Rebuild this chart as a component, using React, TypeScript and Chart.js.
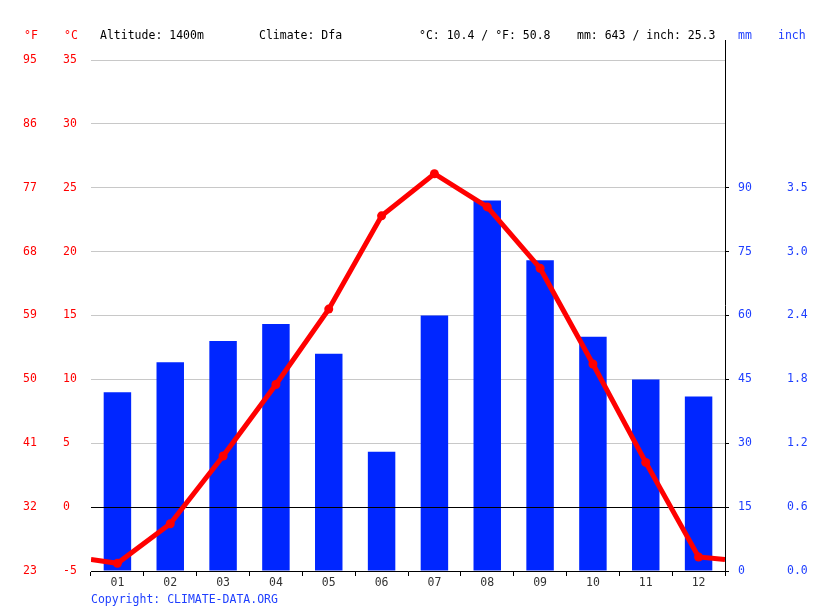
import React, { useEffect, useRef } from 'react';
import { Chart, registerables } from 'chart.js';

Chart.register(...registerables);

const months = ['01', '02', '03', '04', '05', '06', '07', '08', '09', '10', '11', '12'];
const precipitationMm = [42, 49, 54, 58, 51, 28, 60, 87, 73, 55, 45, 41];
const temperatureC = [-4.4, -1.3, 4.0, 9.6, 15.5, 22.8, 26.1, 23.5, 18.7, 11.2, 3.5, -3.9];
const tempEdgeStartC = -4.1;
const tempEdgeEndC = -4.1;
const celsiusMin = -5;
const celsiusMax = 35;
const celsiusStep = 5;
const mmMin = 0;
const mmMax = 120;
const mmStep = 15;
const mmTickLimit = 90;

const headerLeft = 'Altitude: 1400m';
const headerClimate = 'Climate: Dfa';
const headerTemp = '°C: 10.4 / °F: 50.8';
const headerPrecip = 'mm: 643 / inch: 25.3';
const copyrightText = 'Copyright: CLIMATE-DATA.ORG';

const FONT = "'DejaVu Sans Mono', monospace";
const FONT_SIZE = 11.5;
const RED = '#ff0000';
const BLUE = '#1f3fff';
const BAR_BLUE = '#0026ff';

const overlayPlugin = {
  id: 'overlay',
  beforeDatasetDraw(chart: any, args: any) {
    if (args.index !== 1) return;
    const { ctx, chartArea } = chart;
    const y = Math.round(chart.scales.yC.getPixelForValue(0)) + 0.5;
    ctx.save();
    ctx.strokeStyle = '#000';
    ctx.lineWidth = 1;
    ctx.beginPath();
    ctx.moveTo(chartArea.left, y);
    ctx.lineTo(chartArea.right, y);
    ctx.stroke();
    ctx.restore();
  },
  afterDraw(chart: any) {
    const { ctx, chartArea } = chart;
    ctx.save();
    const xr = Math.round(chartArea.right) + 0.5;
    ctx.strokeStyle = '#000';
    ctx.lineWidth = 1;
    ctx.beginPath();
    ctx.moveTo(xr, 40);
    ctx.lineTo(xr, chartArea.bottom);
    ctx.stroke();

    ctx.font = `${FONT_SIZE}px ${FONT}`;
    ctx.textBaseline = 'middle';
    ctx.textAlign = 'left';
    ctx.fillStyle = RED;
    ctx.fillText('°F', 24, 36);
    ctx.fillText('°C', 64, 36);
    ctx.fillStyle = '#000';
    ctx.fillText(headerLeft, 100, 36);
    ctx.fillText(headerClimate, 259, 36);
    ctx.fillText(headerTemp, 419, 36);
    ctx.fillText(headerPrecip, 577, 36);
    ctx.fillStyle = BLUE;
    ctx.fillText('mm', 738, 36);
    ctx.fillText('inch', 778, 36);
    ctx.fillText(copyrightText, 91, 600);
    ctx.restore();
  },
};

export default function App() {
  const canvasRef = useRef<HTMLCanvasElement | null>(null);

  useEffect(() => {
    if (!canvasRef.current) return;
    const linePoints = [
      { x: 0, y: tempEdgeStartC },
      ...temperatureC.map((t, i) => ({ x: i + 0.5, y: t })),
      { x: months.length, y: tempEdgeEndC },
    ];
    const pointRadii = linePoints.map((_, i) => (i === 0 || i === linePoints.length - 1 ? 0 : 4.5));

    const tickFont = { family: FONT, size: FONT_SIZE };

    const chart = new Chart(canvasRef.current, {
      type: 'bar',
      data: {
        labels: months,
        datasets: [
          {
            type: 'bar',
            data: precipitationMm,
            backgroundColor: BAR_BLUE,
            borderWidth: 0,
            yAxisID: 'yMM',
            xAxisID: 'x',
            grouped: false,
            categoryPercentage: 1,
            barPercentage: 0.52,
            order: 1,
          } as any,
          {
            type: 'line',
            data: linePoints,
            borderColor: RED,
            backgroundColor: RED,
            borderWidth: 5,
            pointRadius: pointRadii,
            pointBackgroundColor: RED,
            pointBorderWidth: 0,
            tension: 0,
            yAxisID: 'yC',
            xAxisID: 'xLine',
            order: 0,
          } as any,
        ],
      },
      options: {
        animation: false,
        responsive: false,
        maintainAspectRatio: false,
        events: [],
        layout: { padding: { left: 23, right: 0, top: 60, bottom: 0 } },
        plugins: {
          legend: { display: false },
          tooltip: { enabled: false },
          title: { display: false },
        },
        scales: {
          x: {
            type: 'category',
            position: 'bottom',
            offset: true,
            grid: {
              offset: true,
              drawOnChartArea: false,
              drawTicks: true,
              tickLength: 5,
              color: '#000',
            },
            border: { display: true, color: '#000', width: 1 },
            ticks: { color: '#333', font: tickFont, padding: 0, maxRotation: 0 },
            afterFit: (s: any) => {
              s.height = 40;
            },
          },
          xLine: {
            type: 'linear',
            display: false,
            offset: false,
            grid: { offset: false },
            min: 0,
            max: months.length,
          },
          yC: {
            type: 'linear',
            position: 'left',
            weight: 0,
            min: celsiusMin,
            max: celsiusMax,
            ticks: {
              stepSize: celsiusStep,
              color: RED,
              font: tickFont,
              crossAlign: 'far',
              padding: 0,
            },
            grid: {
              drawTicks: false,
              color: (c: any) => (c.tick && c.tick.value === 0 ? 'rgba(0,0,0,0)' : '#c8c8c8'),
              lineWidth: 1,
            },
            border: { display: false },
            afterFit: (s: any) => {
              s.width = 28;
            },
          },
          yF: {
            type: 'linear',
            position: 'left',
            weight: 1,
            min: celsiusMin,
            max: celsiusMax,
            ticks: {
              stepSize: celsiusStep,
              color: RED,
              font: tickFont,
              crossAlign: 'far',
              padding: 0,
              callback: (v: any) => String(Math.round((Number(v) * 9) / 5 + 32)),
            },
            grid: { display: false },
            border: { display: false },
            afterFit: (s: any) => {
              s.width = 40;
            },
          },
          yMM: {
            type: 'linear',
            position: 'right',
            weight: 0,
            min: mmMin,
            max: mmMax,
            ticks: {
              stepSize: mmStep,
              color: BLUE,
              font: tickFont,
              crossAlign: 'near',
              padding: 9,
            },
            afterBuildTicks: (s: any) => {
              s.ticks = s.ticks.filter((t: any) => t.value <= mmTickLimit);
            },
            grid: {
              drawOnChartArea: false,
              drawTicks: true,
              tickLength: 4,
              color: '#000',
            },
            border: { display: false },
            afterFit: (s: any) => {
              s.width = 54;
            },
          },
          yIn: {
            type: 'linear',
            position: 'right',
            weight: 1,
            min: mmMin,
            max: mmMax,
            ticks: {
              stepSize: mmStep,
              color: BLUE,
              font: tickFont,
              crossAlign: 'near',
              padding: 0,
              callback: (v: any) => (Number(v) / 25.4).toFixed(1),
            },
            afterBuildTicks: (s: any) => {
              s.ticks = s.ticks.filter((t: any) => t.value <= mmTickLimit);
            },
            grid: { display: false },
            border: { display: false },
            afterFit: (s: any) => {
              s.width = 36;
            },
          },
        },
      } as any,
      plugins: [overlayPlugin],
    });

    return () => {
      chart.destroy();
    };
  }, []);

  return (
    <div style={{ position: 'absolute', left: 0, top: 0, width: 815, height: 611, background: '#fff' }}>
      <canvas ref={canvasRef} width={815} height={611} style={{ width: 815, height: 611, display: 'block' }} />
    </div>
  );
}
